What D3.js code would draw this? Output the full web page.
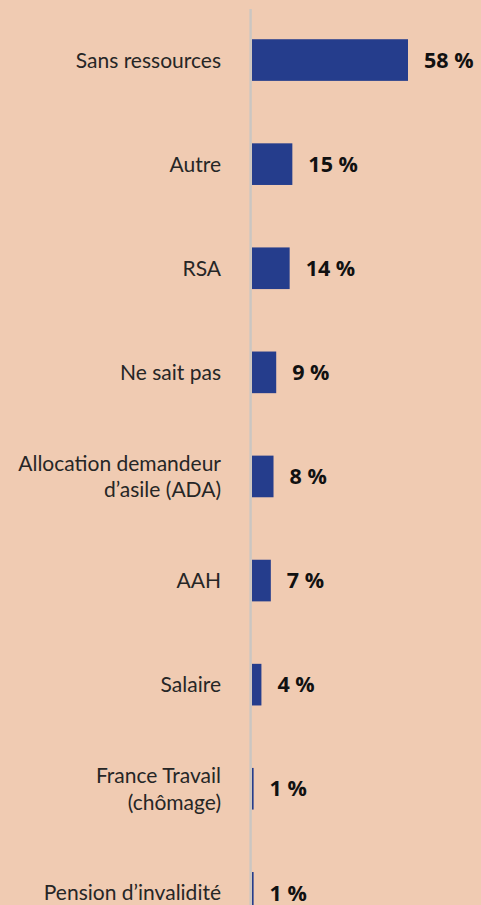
<!DOCTYPE html>
<html>
<head>
<meta charset="utf-8">
<script src="https://cdn.jsdelivr.net/npm/d3@7"></script>
<style>
  html, body { margin: 0; padding: 0; background: #f0cbb2; }
  svg { display: block; }
</style>
</head>
<body>
<svg id="chart"></svg>
<script>
// categories, one entry per line of the label
var categories = [
    ["Sans ressources"],
    ["Autre"],
    ["RSA"],
    ["Ne sait pas"],
    ["Allocation demandeur", "d\u2019asile (ADA)"],
    ["AAH"],
    ["Salaire"],
    ["France Travail", "(chômage)"],
    ["Pension d\u2019invalidité"]
]
// shares (%)
var values = [58, 15, 14, 9, 8, 7, 3.5, 0.6, 0.6]
var valueLabels = ["58 %", "15 %", "14 %", "9 %", "8 %", "7 %", "4 %", "1 %", "1 %"]

var width = 481, height = 905;
var x0 = 252, barMax = 408;

var data = categories.map(function (c, i) {
    return {key: c.join(" "), lines: c, value: values[i], label: valueLabels[i]};
});

var svg = d3.select("#chart")
    .attr("width", width)
    .attr("height", height);

svg.append("rect")
    .attr("width", width)
    .attr("height", height)
    .attr("fill", "#f0cbb2");

var yScale = d3.scaleBand()
    .domain(data.map(function (d) { return d.key; }))
    .range([8, 8 + 9 * 104.1])
    .paddingInner(0.6)
    .paddingOuter(0.3);

var xScale = d3.scaleLinear()
    .domain([0, d3.max(values)])
    .range([x0, barMax]);

// vertical axis line
svg.append("line")
    .attr("x1", 250.6).attr("x2", 250.6)
    .attr("y1", 9).attr("y2", height)
    .attr("stroke", "#cbc6c2")
    .attr("stroke-width", 2.4);

svg.selectAll("rect.bar")
    .data(data)
    .enter().append("rect")
    .attr("class", "bar")
    .attr("fill", "#253d8c")
    .attr("x", xScale(0))
    .attr("y", function (d) { return yScale(d.key); })
    .attr("width", function (d) { return xScale(d.value) - xScale(0); })
    .attr("height", yScale.bandwidth());

// category labels
var cat = svg.selectAll("text.cat")
    .data(data)
    .enter().append("text")
    .attr("class", "cat")
    .attr("text-anchor", "end")
    .attr("font-family", "Lato, 'Open Sans', sans-serif")
    .attr("font-size", "21px")
    .attr("fill", "#262626");

cat.each(function (d) {
    var cy = yScale(d.key) + yScale.bandwidth() / 2;
    var lh = 26.5;
    var first = cy - (d.lines.length - 1) * lh / 2;
    d3.select(this).selectAll("tspan")
        .data(d.lines)
        .enter().append("tspan")
        .attr("x", 221)
        .attr("y", function (l, i) { return first + i * lh; })
        .attr("dy", "0.36em")
        .text(function (l) { return l; });
});

// value labels
svg.selectAll("text.val")
    .data(data)
    .enter().append("text")
    .attr("class", "val")
    .attr("x", function (d) { return xScale(d.value) + 16; })
    .attr("y", function (d) { return yScale(d.key) + yScale.bandwidth() / 2; })
    .attr("dy", "0.36em")
    .attr("font-family", "'Open Sans', sans-serif")
    .attr("font-weight", "bold")
    .attr("font-size", "21.5px")
    .attr("fill", "#111")
    .text(function (d) { return d.label; });
</script>
</body>
</html>
